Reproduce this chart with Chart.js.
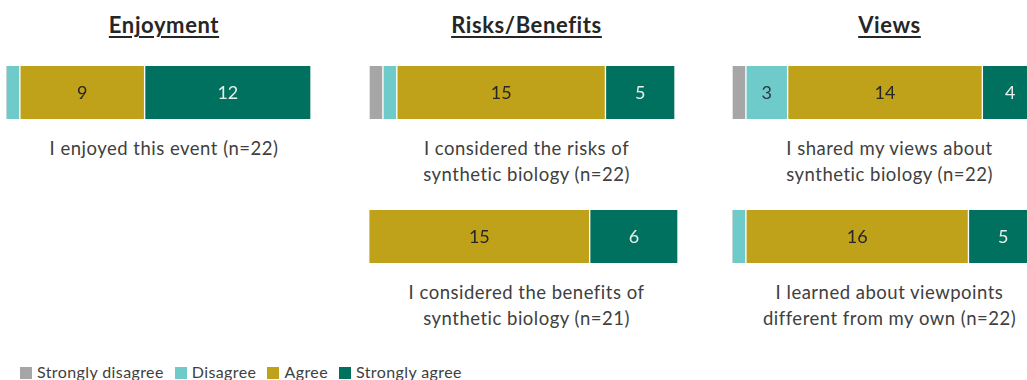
<!DOCTYPE html>
<html>
<head>
<meta charset="utf-8">
<script src="https://cdn.jsdelivr.net/npm/chart.js@4.4.1/dist/chart.umd.min.js"></script>
<style>
  html, body { margin: 0; padding: 0; background: #fff; }
  body { width: 1027px; height: 380px; position: relative; overflow: hidden; font-family: Lato, "Open Sans", sans-serif; }
  .title { position: absolute; width: 300px; text-align: center; font-weight: 700; font-size: 22px; letter-spacing: 0.6px; color: #262626; text-decoration: underline; text-underline-offset: 3px; text-decoration-thickness: 1.5px; line-height: 26px; }
  .cap { position: absolute; width: 340px; text-align: center; font-size: 18.5px; letter-spacing: 0.5px; color: #404040; line-height: 25.5px; }
  .barbox { position: absolute; }
  .legend { position: absolute; left: 20px; top: 363px; font-size: 16px; letter-spacing: 0.4px; color: #404040; white-space: nowrap; line-height: 18px; }
  .legend span.sw { display: inline-block; width: 12px; height: 12px; margin-right: 5px; vertical-align: -1px; }
  .legend span.item { margin-right: 11px; }
</style>
</head>
<body>
<script>
// Response scale, in display order
const responses = ['Strongly disagree', 'Disagree', 'Agree', 'Strongly agree'];
const responseColors = ['#a6a6a6', '#6ecbca', '#c0a21a', '#00705f'];
const labelColors = ['#333333', '#2b3a3f', '#262626', '#e6efe9'];

// Panel headings
const groups = ['Enjoyment', 'Risks/Benefits', 'Views'];

// Survey statements (n = respondents)
const statements = [
  'I enjoyed this event (n=22)',
  'I considered the risks of synthetic biology (n=22)',
  'I considered the benefits of synthetic biology (n=21)',
  'I shared my views about synthetic biology (n=22)',
  'I learned about viewpoints different from my own (n=22)'
];
const statementLines = [
  ['I enjoyed this event (n=22)'],
  ['I considered the risks of', 'synthetic biology (n=22)'],
  ['I considered the benefits of', 'synthetic biology (n=21)'],
  ['I shared my views about', 'synthetic biology (n=22)'],
  ['I learned about viewpoints', 'different from my own (n=22)']
];

// Counts per response: strongly disagree, disagree, agree, strongly agree
const stronglyDisagree = [0, 1, 0, 1, 0];
const disagree         = [1, 1, 0, 3, 1];
const agree            = [9, 15, 15, 14, 16];
const stronglyAgree    = [12, 5, 6, 4, 5];

// Panel each statement belongs to, and its row within the panel
const statementGroup = [0, 1, 1, 2, 2];
const statementRow   = [0, 0, 1, 0, 1];

// Layout
const colLeft = [6, 369, 732];
const colText = [164, 526.5, 889.5];
const rowTop = [65.5, 209.5];
const barHeight = 53;
const barWidths = [305, 306, 309, 306, 306];
const capTop = [136, 280];

// Heading text
groups.forEach((g, i) => {
  const d = document.createElement('div');
  d.className = 'title';
  d.textContent = g;
  d.style.left = (colText[i] - 150) + 'px';
  d.style.top = '12px';
  document.body.appendChild(d);
});

// Value labels inside segments
const segmentLabels = {
  id: 'segmentLabels',
  afterDatasetsDraw(chart) {
    const ctx = chart.ctx;
    ctx.save();
    ctx.font = '18px Lato, "Open Sans", sans-serif';
    ctx.textAlign = 'center';
    ctx.textBaseline = 'middle';
    chart.data.datasets.forEach((ds, di) => {
      const meta = chart.getDatasetMeta(di);
      meta.data.forEach((el, j) => {
        const v = ds.data[j];
        if (v >= 2) {
          const p = el.getCenterPoint();
          ctx.fillStyle = labelColors[di];
          ctx.fillText(String(v), p.x, p.y + 1);
        }
      });
    });
    ctx.restore();
  }
};

const series = [stronglyDisagree, disagree, agree, stronglyAgree];

statements.forEach((s, k) => {
  const g = statementGroup[k];
  const r = statementRow[k];
  const total = series.reduce((a, arr) => a + arr[k], 0);

  const box = document.createElement('div');
  box.className = 'barbox';
  box.style.left = colLeft[g] + 'px';
  box.style.top = rowTop[r] + 'px';
  box.style.width = barWidths[k] + 'px';
  box.style.height = barHeight + 'px';
  const cv = document.createElement('canvas');
  cv.width = barWidths[k];
  cv.height = barHeight;
  box.appendChild(cv);
  document.body.appendChild(box);

  new Chart(cv, {
    type: 'bar',
    data: {
      labels: [s],
      datasets: responses.map((name, i) => ({
        label: name,
        data: [series[i][k]],
        backgroundColor: responseColors[i],
        borderColor: '#ffffff',
        borderWidth: { left: 1, right: 1, top: 0, bottom: 0 },
        borderSkipped: false,
        barPercentage: 1,
        categoryPercentage: 1
      }))
    },
    options: {
      indexAxis: 'y',
      responsive: false,
      animation: false,
      devicePixelRatio: 1,
      layout: { padding: 0 },
      scales: {
        x: { stacked: true, min: 0, max: total, display: false },
        y: { stacked: true, display: false }
      },
      plugins: { legend: { display: false }, tooltip: { enabled: false } }
    },
    plugins: [segmentLabels]
  });

  const cap = document.createElement('div');
  cap.className = 'cap';
  cap.innerHTML = statementLines[k].map(t => t.replace(/&/g, '&amp;')).join('<br>');
  cap.style.left = (colText[g] - 170) + 'px';
  cap.style.top = capTop[r] + 'px';
  document.body.appendChild(cap);
});

// Legend
const lg = document.createElement('div');
lg.className = 'legend';
responses.forEach((name, i) => {
  const it = document.createElement('span');
  it.className = 'item';
  const sw = document.createElement('span');
  sw.className = 'sw';
  sw.style.background = responseColors[i];
  it.appendChild(sw);
  it.appendChild(document.createTextNode(name));
  lg.appendChild(it);
});
document.body.appendChild(lg);
</script>
</body>
</html>
